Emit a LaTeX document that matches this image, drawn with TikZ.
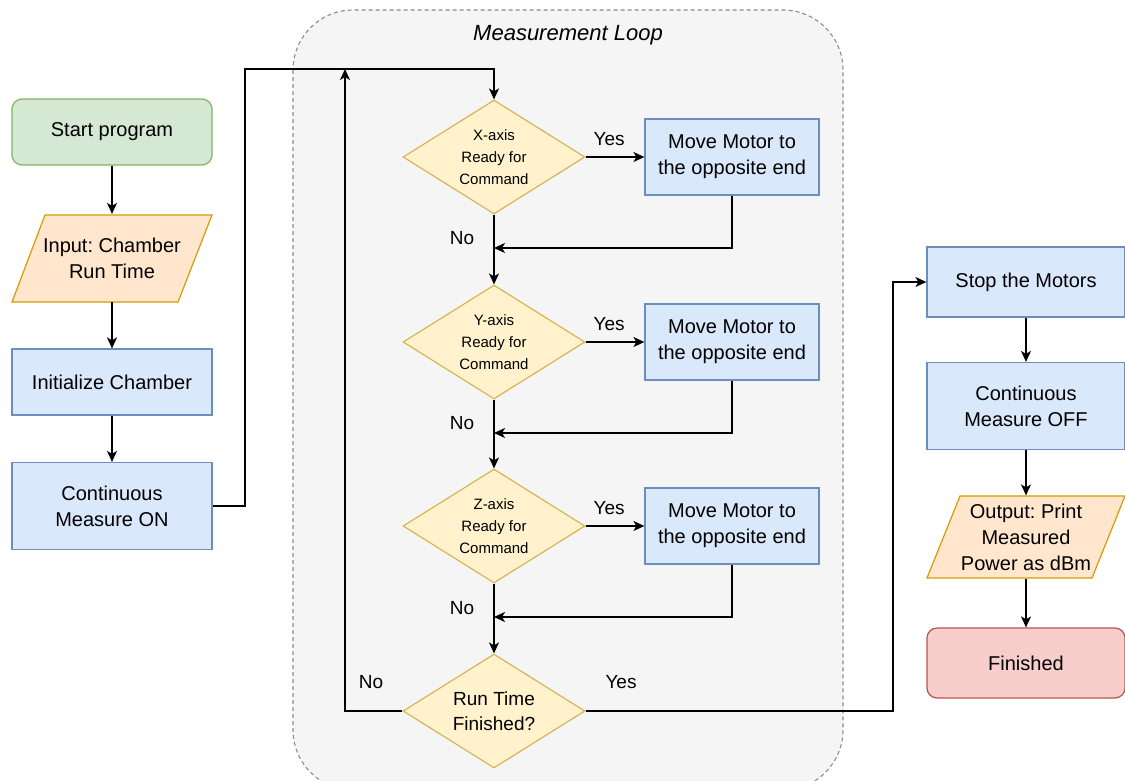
\documentclass[tikz,border=0pt]{standalone}
\usepackage{fontspec}
\setmainfont{Liberation Sans}
\usetikzlibrary{arrows.meta,shapes.geometric}
\definecolor{blueF}{HTML}{DAE8FC}\definecolor{blueS}{HTML}{6C8EBF}
\definecolor{greenF}{HTML}{D5E8D4}\definecolor{greenS}{HTML}{82B366}
\definecolor{orangeF}{HTML}{FFE6CC}\definecolor{orangeS}{HTML}{D79B00}
\definecolor{yelF}{HTML}{FFF2CC}\definecolor{yelS}{HTML}{D6B656}
\definecolor{redF}{HTML}{F8CECC}\definecolor{redS}{HTML}{B85450}
\definecolor{contF}{HTML}{F5F5F5}\definecolor{contS}{HTML}{8C8C8C}
\frenchspacing
\begin{document}
\begin{tikzpicture}[x=1pt,y=-1pt,
  base/.style={line width=1.2pt, inner sep=0pt, align=center, text=black, font=\fontsize{20}{26}\selectfont},
  proc/.style={base, draw=blueS, fill=blueF, minimum width=200, minimum height=66},
  motor/.style={proc, minimum width=174, minimum height=76},
  startbox/.style={base, draw=greenS, fill=greenF, rounded corners=10, minimum width=200, minimum height=66},
  endbox/.style={base, draw=redS, fill=redF, rounded corners=10, minimum width=198, minimum height=70},
  iotext/.style={base, minimum width=200, minimum height=87},
  iofill/.style={line width=1.2pt, draw=orangeS, fill=orangeF},
  dec/.style={base, diamond, aspect=1.59, draw=yelS, fill=yelF, minimum width=182, minimum height=114, font=\fontsize{15}{22}\selectfont},
  lbl/.style={font=\fontsize{19}{23}\selectfont, text=black, inner sep=0pt},
  arr/.style={line width=1.5pt, -{Stealth[length=11pt,width=10pt,inset=3pt]}},
  ln/.style={line width=1.5pt}
]
\useasboundingbox (0,0) rectangle (1125,780);
% container
\path[draw=contS, fill=contF, line width=1.1pt, dash pattern=on 4pt off 3pt, rounded corners=60] (293,10) rectangle (843,790);
\node[font=\itshape\fontsize{22}{26}\selectfont, text=black, inner sep=0pt] (title) at (568,35) {Measurement Loop};

% left column
\node[startbox] (start) at (112,132) {Start program};
\path[iofill] (12,302) -- (45,215) -- (212,215) -- (178,302) -- cycle;
\node[iotext] (inp) at (112,258) {Input: Chamber\\Run Time};
\node[proc] (init) at (112,382) {Initialize Chamber};
\node[proc, minimum height=87] (cmon) at (112,506) {Continuous\\Measure ON};

% loop column
\node[dec] (X) at (494,157) {X-axis\\Ready for\\Command};
\node[motor] (m1) at (732,157) {Move Motor to\\the opposite end};
\node[dec] (Y) at (494,342) {Y-axis\\Ready for\\Command};
\node[motor] (m2) at (732,342) {Move Motor to\\the opposite end};
\node[dec] (Z) at (494,526) {Z-axis\\Ready for\\Command};
\node[motor] (m3) at (732,526) {Move Motor to\\the opposite end};
\node[dec, font=\fontsize{19}{25}\selectfont] (rt) at (494,711) {Run Time\\Finished?};

% right column
\node[proc, minimum width=198, minimum height=70] (stop) at (1026,282) {Stop the Motors};
\node[proc, minimum width=198, minimum height=87] (cmoff) at (1026,406) {Continuous\\Measure OFF};
\path[iofill] (927,578) -- (960,496) -- (1125,496) -- (1092,578) -- cycle;
\node[iotext, minimum width=198, minimum height=82] (out) at (1026,537) {Output: Print\\Measured\\Power as dBm};
\node[endbox] (fin) at (1026,663) {Finished};

% coordinates
\coordinate (tl) at (245,69);
\coordinate (lb) at (345,69);
\coordinate (j1) at (494,248);
\coordinate (j2) at (494,433);
\coordinate (j3) at (494,617);
\coordinate (t2) at (893,711);

% connectors
\draw[arr] (start) -- (inp);
\draw[arr] (inp) -- (init);
\draw[arr] (init) -- (cmon);
\draw[arr] (cmon.east) -| (tl) -| (X.north);

\draw[arr] (X.east) -- node[lbl, above=11pt, pos=0.4] (y1) {Yes} (m1.west);
\draw[arr] (m1.south) |- (j1);
\draw[arr] (X.south) -- (Y.north);
\node[lbl] (n1) at (462,238) {No};

\draw[arr] (Y.east) -- node[lbl, above=11pt, pos=0.4] (y2) {Yes} (m2.west);
\draw[arr] (m2.south) |- (j2);
\draw[arr] (Y.south) -- (Z.north);
\node[lbl] (n2) at (462,423) {No};

\draw[arr] (Z.east) -- node[lbl, above=11pt, pos=0.4] (y3) {Yes} (m3.west);
\draw[arr] (m3.south) |- (j3);
\draw[arr] (Z.south) -- (rt.north);
\node[lbl] (n3) at (462,608) {No};

\draw[arr] (rt.west) -| (lb);
\node[lbl] (n4) at (371,682) {No};
\draw[arr] (rt.east) -- (t2) |- (stop.west);
\node[lbl] (y4) at (621,682) {Yes};

\draw[arr] (stop) -- (cmoff);
\draw[arr] (cmoff) -- (out);
\draw[arr] (out) -- (fin);
\end{tikzpicture}
\end{document}
